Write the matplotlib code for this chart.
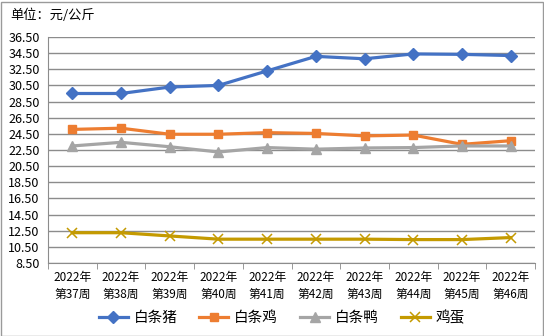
import matplotlib
matplotlib.use("Agg")
import matplotlib.pyplot as plt
from matplotlib.patches import Rectangle
from matplotlib.ticker import FixedLocator, FormatStrFormatter

plt.rcParams['font.family'] = ['Noto Sans CJK SC', 'DejaVu Sans']

weeks = ["2022年\n第37周", "2022年\n第38周", "2022年\n第39周", "2022年\n第40周", "2022年\n第41周",
         "2022年\n第42周", "2022年\n第43周", "2022年\n第44周", "2022年\n第45周", "2022年\n第46周"]
pork = [29.5, 29.5, 30.3, 30.5, 32.3, 34.1, 33.8, 34.4, 34.35, 34.2]
chicken = [25.05, 25.2, 24.45, 24.45, 24.65, 24.55, 24.25, 24.35, 23.2, 23.65]
duck = [23.0, 23.45, 22.9, 22.25, 22.8, 22.6, 22.75, 22.8, 23.0, 23.0]
egg = [12.25, 12.25, 11.85, 11.45, 11.45, 11.45, 11.45, 11.4, 11.4, 11.65]
series_names = ["白条猪", "白条鸡", "白条鸭", "鸡蛋"]
y_ticks = [8.5 + 2 * i for i in range(15)]

fig = plt.figure(figsize=(5.44, 3.36), dpi=100)
ax = fig.add_axes([0.0882, 0.2173, 0.8953, 0.6726])

x = list(range(len(weeks)))
ax.plot(x, pork, color='#4472C4', lw=2.3, marker='D', ms=6, label=series_names[0])
ax.plot(x, chicken, color='#ED7D31', lw=2.3, marker='s', ms=5.5, label=series_names[1])
ax.plot(x, duck, color='#A5A5A5', lw=2.3, marker='^', ms=7, label=series_names[2])
ax.plot(x, egg, color='#C49A00', lw=2.3, marker='x', ms=7, mew=1.1, label=series_names[3])

ax.set_xlim(-0.5, len(weeks) - 0.5)
ax.set_ylim(8.5, 36.5)
ax.set_yticks(y_ticks)
ax.yaxis.set_major_formatter(FormatStrFormatter('%.2f'))
ax.set_xticks(x)
ax.set_xticklabels(weeks, fontsize=8.5, linespacing=1.35)
ax.xaxis.set_minor_locator(FixedLocator([i - 0.5 for i in range(len(weeks) + 1)]))
ax.tick_params(axis='x', which='major', length=0, pad=6)
ax.tick_params(axis='x', which='minor', length=4, color='#888888', direction='out')
ax.tick_params(axis='y', length=0, labelsize=9, pad=6)
ax.grid(axis='y', color='#8c8c8c', lw=1)
ax.set_axisbelow(True)
for s in ['top', 'right']:
    ax.spines[s].set_visible(False)
ax.spines['left'].set_color('#8c8c8c')
ax.spines['bottom'].set_color('#8c8c8c')

fig.text(10 / 544, 1 - 15 / 336, "单位：元/公斤", fontsize=9.5, va='center', ha='left')

fig.legend(loc='center', bbox_to_anchor=(0.518, 1 - 318 / 336), ncol=4, frameon=False,
           fontsize=10.5, handlelength=2.0, handletextpad=0.4, columnspacing=1.5)

fig.patches.append(Rectangle((0.5 / 544, 0.5 / 336), 1 - 2 / 544, 1 - 2 / 336,
                             transform=fig.transFigure, fill=False, edgecolor='#9a9a9a', lw=1))

fig.savefig('out.png', dpi=100)
